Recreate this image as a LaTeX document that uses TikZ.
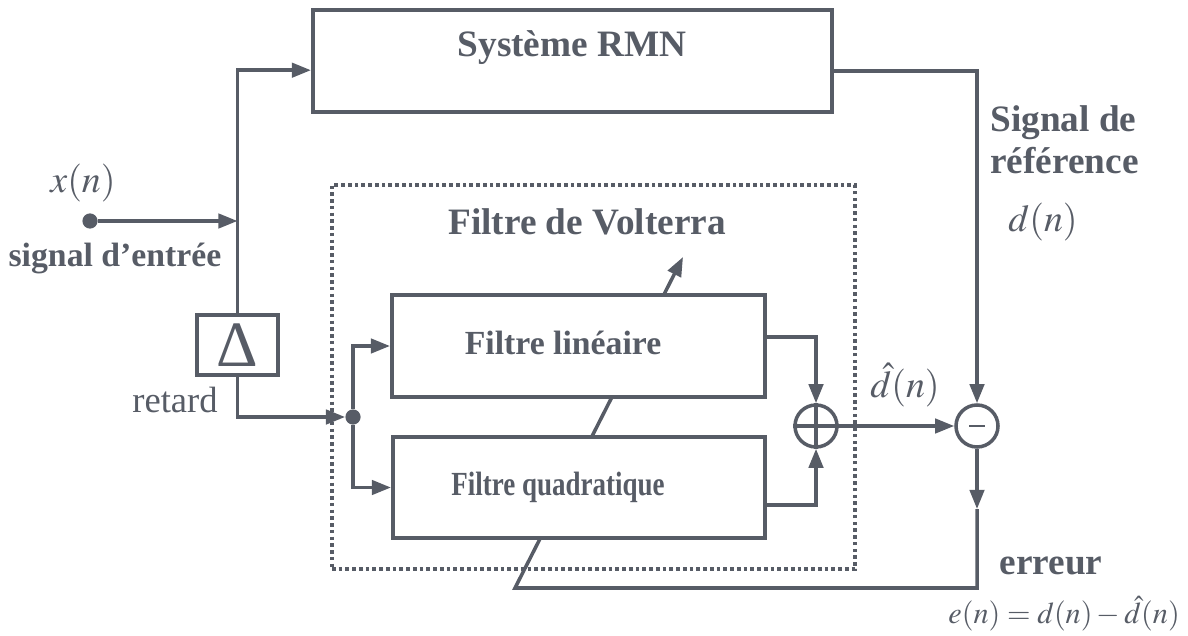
\documentclass[tikz,border=0pt]{standalone}
\usepackage{mathptmx}
\usepackage{fontspec}
\setmainfont{Liberation Serif}
\usetikzlibrary{arrows.meta,positioning,backgrounds}
\definecolor{ink}{HTML}{575C66}
\newcommand{\bfbig}{\fontsize{24}{29}\selectfont\bfseries}
\newcommand{\bfhuge}{\fontsize{26.5}{30}\selectfont\bfseries}
\newcommand{\mathbig}{\fontsize{27}{32}\selectfont}
\tikzset{
  blk/.style={draw=ink,fill=white,line width=2.8pt,inner sep=0pt,font=\bfbig,text=ink},
  arr/.style={-{Triangle[length=4.8mm,width=3.6mm]},line width=2.5pt,color=ink},
  wire/.style={line width=2.5pt,color=ink},
  dotn/.style={circle,fill=ink,inner sep=0pt,minimum size=3.8mm},
  sumc/.style={circle,draw=ink,fill=white,line width=2.5pt,minimum size=1.05cm,inner sep=0pt},
  lbl/.style={font=\bfbig,text=ink,inner sep=0pt},
  mlbl/.style={font=\mathbig,text=ink,inner sep=0pt},
  frame/.style={draw=ink,line width=3pt,dash pattern=on 2.6pt off 2.2pt},
}

\begin{document}
\begin{tikzpicture}[x=0.025cm,y=-0.025cm]
  \useasboundingbox (0,0) rectangle (1188,636);
  % blocks
  \node[blk,minimum width=12.975cm,minimum height=2.55cm] (rmn) at (572.5,61) {};
  \node[lbl,font=\bfhuge] (rmnlbl) at (572,48) {Système RMN};
  \node[frame,minimum width=13.075cm,minimum height=9.6cm] (volt) at (593.5,377) {};
  \node[lbl,font=\bfhuge] (voltlbl) at (587,222) {Filtre de Volterra};
  \node[blk,minimum width=9.325cm,minimum height=2.55cm] (lin) at (578.5,346) {};
  \node[lbl] (linlbl) at (563,343) {Filtre linéaire};
  \node[blk,minimum width=9.3cm,minimum height=2.525cm] (quad) at (579,487.5) {};
  \node[lbl] (quadlbl) at (558,487) {\scalebox{0.8}[1]{Filtre quadratique}};
  \node[blk,minimum width=2.025cm,minimum height=1.5cm,font=\fontsize{46}{46}\selectfont] (delta) at (237.5,345) {Δ};
  \node[sumc] (sum) at (816,426) {};
  \node[sumc] (minus) at (977,426) {};
  \node[dotn] (xin) at (90,221) {};
  \node[dotn] (jn) at (353,417) {};
  \coordinate (eback) at (977,509);
  \coordinate (ebase) at (515,588);
  \coordinate (adtip) at (683,257);
  % connectors
  \draw[arr] (xin) -- (xin -| delta);
  \draw[arr] (delta.north) |- ([yshift=-0.23cm]rmn.west);
  \draw[arr] (delta.south) |- (jn.west);
  \draw[arr] (jn) |- (lin.west);
  \draw[arr] (jn) |- (quad.west);
  \draw[arr] ([yshift=0.225cm]lin.east) -| (sum.north);
  \draw[arr] ([yshift=-0.44cm]quad.east) -| (sum.south);
  \draw[wire] (sum.north) -- (sum.south) (sum.west) -- (sum.east);
  \draw[wire,line width=1.6pt] ([xshift=-0.19cm]minus.center) -- ([xshift=0.19cm]minus.center);
  \draw[arr] (sum) -- (minus);
  \draw[arr] ([yshift=-0.25cm]rmn.east) -| (minus.north);
  \draw[arr] (minus) -- (eback);
  \begin{scope}[on background layer]
    \draw[arr] (eback) |- (ebase) -- (adtip);
  \end{scope}
  % labels
  \node[mlbl] (xlbl) at (83,183) {$x(n)$};
  \node[lbl] (inlbl) at (115,258) {signal d’entrée};
  \node[lbl,font=\fontsize{26}{30}\selectfont] (retlbl) at (175,400) {retard};
  \node[mlbl] (dhlbl) at (905,385) {$\hat{d}(n)$};
  \node[lbl,font=\bfhuge,align=left,anchor=west] (reflbl) at (990,140) {Signal de\\référence};
  \node[mlbl] (dlbl) at (1043,222) {$d(n)$};
  \node[lbl,font=\bfhuge] (errlbl) at (1051,566) {erreur};
  \node[mlbl,font=\fontsize{21.5}{26}\selectfont,anchor=east] (eqlbl) at (1180,614) {$e(n)=d(n)-\hat{d}(n)$};
\end{tikzpicture}
\end{document}
